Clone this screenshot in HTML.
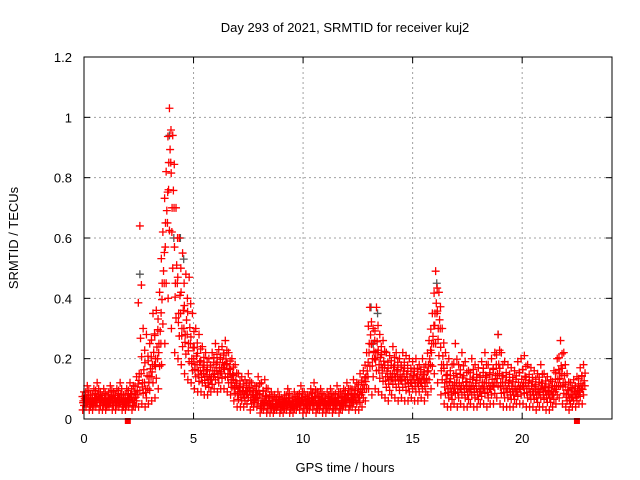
<!DOCTYPE html>
<html><head><meta charset="utf-8"><style>
html,body{margin:0;padding:0;background:#fff;}
svg{display:block;font-family:"Liberation Sans",sans-serif;}
</style></head><body>
<svg id="chart" width="640" height="480" viewBox="0 0 640 480" xmlns="http://www.w3.org/2000/svg">
<rect width="640" height="480" fill="#fff"/>
<text x="345" y="32" text-anchor="middle" font-size="13">Day 293 of 2021, SRMTID for receiver kuj2</text>
<text x="345" y="472" text-anchor="middle" font-size="13">GPS time / hours</text>
<text transform="translate(18,238) rotate(-90)" text-anchor="middle" font-size="13">SRMTID / TECUs</text>
<g id="grid"></g>
<g id="ticks"></g>
<g id="gray"></g>
<g id="red"></g>
<rect x="84" y="57" width="528" height="362" fill="none" stroke="#000" stroke-width="1"/>
</svg>
<script>
const xTicks=[0,5,10,15,20];
const yTicks=[0,0.2,0.4,0.6,0.8,1,1.2];
const yTickLabels=["0","0.2","0.4","0.6","0.8","1","1.2"];
const binStart=0, binStep=0.15;
const redHigh=[.09,.11,.08,.10,.12,.09,.10,.08,.11,.09,.10,.12,.08,.10,.12,.11,.14,.64,.30,.28,.25,.35,.36,.42,.62,.82,1.03,.94,.70,.60,.55,.48,.47,.35,.30,.28,.24,.22,.20,.22,.25,.23,.24,.26,.22,.20,.18,.15,.14,.13,.15,.12,.11,.14,.12,.13,.10,.09,.08,.09,.07,.08,.10,.07,.09,.08,.11,.09,.08,.10,.12,.09,.10,.08,.09,.10,.08,.11,.09,.10,.12,.10,.13,.12,.15,.16,.22,.37,.30,.37,.28,.26,.22,.21,.24,.22,.20,.22,.21,.20,.19,.20,.18,.20,.18,.26,.35,.49,.42,.30,.22,.20,.18,.25,.18,.22,.19,.16,.20,.18,.17,.19,.22,.18,.20,.22,.28,.22,.19,.18,.17,.16,.19,.20,.21,.18,.17,.16,.15,.18,.15,.14,.13,.16,.20,.26,.22,.15,.12,.13,.14,.17,.18];
const redMid=[.06,.07,.05,.06,.07,.06,.06,.05,.07,.06,.06,.07,.05,.06,.07,.06,.08,.15,.12,.10,.14,.18,.20,.25,.45,.65,.85,.70,.45,.35,.30,.28,.25,.20,.18,.16,.15,.14,.13,.14,.16,.15,.17,.18,.15,.13,.11,.09,.08,.08,.09,.07,.07,.08,.05,.06,.05,.05,.04,.05,.04,.05,.06,.04,.05,.05,.06,.05,.05,.06,.06,.05,.06,.05,.05,.06,.05,.06,.05,.06,.07,.06,.07,.07,.08,.10,.14,.25,.20,.22,.18,.17,.14,.13,.15,.14,.13,.14,.13,.12,.13,.12,.12,.13,.12,.18,.25,.35,.30,.18,.12,.10,.09,.12,.10,.11,.10,.09,.11,.10,.09,.10,.12,.10,.11,.12,.15,.12,.10,.10,.09,.09,.10,.11,.12,.10,.09,.09,.08,.10,.09,.08,.08,.09,.11,.15,.12,.08,.07,.08,.08,.10,.11];
const redLow=[.03,.04,.03,.03,.04,.03,.03,.03,.04,.03,.03,.04,.03,.03,.04,.03,.04,.04,.05,.04,.05,.06,.07,.10,.18,.25,.40,.30,.22,.20,.18,.15,.13,.12,.10,.09,.09,.08,.08,.09,.10,.09,.10,.10,.09,.08,.06,.04,.04,.04,.05,.03,.04,.04,.02,.03,.02,.02,.02,.03,.02,.02,.03,.02,.02,.03,.03,.02,.02,.03,.03,.02,.03,.02,.02,.03,.02,.03,.02,.03,.04,.03,.04,.03,.03,.04,.06,.10,.08,.10,.09,.08,.07,.06,.08,.07,.06,.07,.06,.06,.07,.06,.06,.07,.06,.08,.10,.15,.12,.08,.05,.04,.04,.05,.04,.05,.04,.04,.05,.04,.04,.05,.05,.04,.05,.05,.07,.05,.04,.04,.04,.04,.05,.05,.05,.04,.04,.04,.03,.04,.04,.03,.03,.04,.05,.07,.05,.04,.03,.04,.04,.05,.05];
const grayTimes=[2.55,3.9,4.1,4.4,4.55,13.1,13.2,13.4,16.1,18.9];
const grayValues=[0.48,0.94,0.60,0.60,0.53,0.37,0.25,0.35,0.45,0.28];
const markTimes=[2.0,22.5];
const markValues=[0,0];

const X0=84,X1=612,Y0=419,Y1=57;
const xs=t=>X0+t*(X1-X0)/24.1;
const ys=v=>Y0-v*(Y0-Y1)/1.2;
const NS="http://www.w3.org/2000/svg";
function mk(tag,attrs,parent){const e=document.createElementNS(NS,tag);for(const k in attrs)e.setAttribute(k,attrs[k]);parent.appendChild(e);return e;}
const grid=document.getElementById('grid'),ticks=document.getElementById('ticks');
yTicks.forEach((v,i)=>{const y=ys(v);
 if(i>0&&i<yTicks.length-1){const l=mk('line',{x1:X0,x2:X1,y1:y,y2:y,stroke:'#a0a0a0','stroke-dasharray':'2,3'},grid);
 
 }
 mk('line',{x1:X0,x2:X0+6,y1:y,y2:y,stroke:'#000'},ticks);
 mk('line',{x1:X1-6,x2:X1,y1:y,y2:y,stroke:'#000'},ticks);
 const t=mk('text',{x:X0-12,y:y+5,'text-anchor':'end','font-size':'13'},ticks);t.textContent=yTickLabels[i];
 
 });
xTicks.forEach(v=>{const x=xs(v);
 if(v>0){const l=mk('line',{x1:x,x2:x,y1:Y0,y2:Y1,stroke:'#a0a0a0','stroke-dasharray':'2,3'},grid);
 
 }
 mk('line',{x1:x,x2:x,y1:Y0,y2:Y0-6,stroke:'#000'},ticks);
 mk('line',{x1:x,x2:x,y1:Y1,y2:Y1+6,stroke:'#000'},ticks);
 const t=mk('text',{x:x,y:Y0+24,'text-anchor':'middle','font-size':'13'},ticks);t.textContent=String(v);
 
 });
function cross(g,t,v,c){const x=xs(t),y=ys(v);
 const p=mk('path',{d:`M${x-4},${y}h8M${x},${y-4}v8`,stroke:c,'stroke-width':1.3,fill:'none'},g);
 
 }
const gray=document.getElementById('gray'),red=document.getElementById('red');
grayTimes.forEach((t,i)=>cross(gray,t,grayValues[i],'#555'));
// each bin: marks spread between its low / mid / high values
const fr=[[-0.06,0,0],[0.0,0,0.5],[0.06,0,1],[-0.03,1,0],[0.03,1,0.4],[-0.07,1,0.8],[0.07,1,1],[0.0,2,0],[-0.04,0,0.8]];
redMid.forEach((m,i)=>{const t=binStart+i*binStep,lo=redLow[i],hi=redHigh[i];
 fr.forEach(f=>{let v;
  if(f[1]===0)v=lo+(m-lo)*f[2];else if(f[1]===1)v=m+(hi-m)*(f[2]*0.6);else v=hi;
  cross(red,t+f[0],v,'#f00');});
});
markTimes.forEach((t,i)=>{const r=mk('rect',{x:xs(t)-3,y:ys(markValues[i])-1,width:6,height:6,fill:'#f00'},red);
 
 });
</script>
</body></html>
